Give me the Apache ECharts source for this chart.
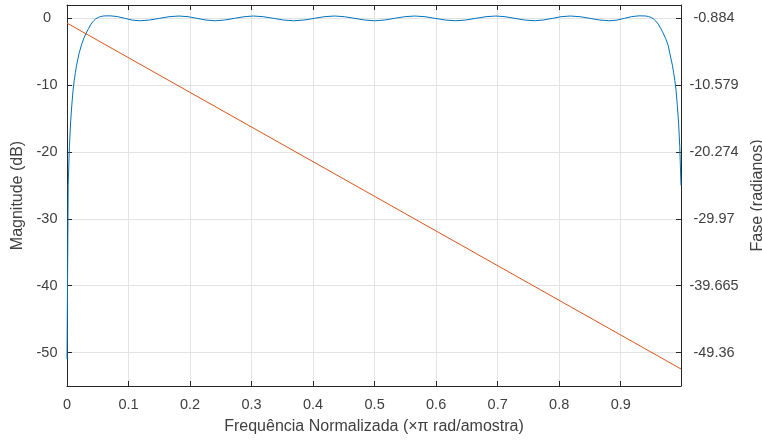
<!DOCTYPE html>
<html>
<head>
<meta charset="utf-8">
<script src="https://cdn.jsdelivr.net/npm/echarts@6/dist/echarts.min.js"></script>
<style>
html,body{margin:0;padding:0;background:#fff;}
#chart{width:762px;height:442px;}
</style>
</head>
<body>
<div id="chart"></div>
<script>
// Normalized frequency (x pi rad/sample)
var magFreq = [0, 0.00195, 0.0039, 0.0059, 0.0078, 0.0098, 0.0117, 0.0137, 0.0156, 0.0195, 0.0234, 0.0273, 0.0312, 0.0352, 0.039, 0.043, 0.047, 0.051, 0.055, 0.06, 0.07,
  0.082, 0.094, 0.106, 0.118, 0.134, 0.150, 0.166, 0.182, 0.197, 0.211, 0.226, 0.240, 0.256, 0.272, 0.288, 0.303, 0.319, 0.336, 0.352, 0.368, 0.385, 0.402, 0.418, 0.435, 0.451, 0.468, 0.484, 0.500,
  0.516, 0.532, 0.549, 0.565, 0.582, 0.598, 0.615, 0.632, 0.648, 0.664, 0.681, 0.697, 0.712, 0.728, 0.744, 0.760, 0.774, 0.789, 0.803, 0.818, 0.834, 0.850, 0.866, 0.882, 0.894, 0.906, 0.918, 0.930,
  0.940, 0.945, 0.949, 0.953, 0.957, 0.961, 0.965, 0.969, 0.973, 0.977, 0.980, 0.984, 0.986, 0.988, 0.990, 0.992, 0.994, 0.996, 0.998];
// Magnitude (dB)
var magDb = [-51, -25, -19.2, -15.5, -13.0, -10.8, -9.3, -8.1, -7.0, -5.3, -4.0, -3.0, -2.2, -1.5, -0.85, -0.4, -0.05, 0.15, 0.28, 0.36, 0.38,
  0.27, 0.0, -0.26, -0.36, -0.25, 0.0, 0.25, 0.35, 0.25, 0.0, -0.25, -0.36, -0.25, 0.0, 0.25, 0.35, 0.25, 0.0, -0.25, -0.36, -0.25, 0.0, 0.25, 0.35, 0.25, 0.0, -0.25, -0.36,
  -0.25, 0.0, 0.25, 0.35, 0.25, 0.0, -0.25, -0.36, -0.25, 0.0, 0.25, 0.35, 0.25, 0.0, -0.25, -0.36, -0.25, 0.0, 0.25, 0.35, 0.25, 0.0, -0.25, -0.36, -0.26, 0.0, 0.27, 0.38,
  0.36, 0.28, 0.15, -0.05, -0.4, -0.85, -1.5, -2.2, -3.0, -4.0, -5.3, -7.0, -8.1, -9.3, -10.8, -13.0, -15.5, -19.2, -25];
// Phase (radians)
var phaseFreq = [0, 0.5, 0.998];
var phaseRad = [-1.571, -26.70, -51.74];

var xTicks = [0, 0.1, 0.2, 0.3, 0.4, 0.5, 0.6, 0.7, 0.8, 0.9];
var magTicks = [-50, -40, -30, -20, -10, 0];
var phaseTicks = [-49.36, -39.665, -29.97, -20.274, -10.579, -0.884];

var magData = magFreq.map(function (f, i) { return [f, magDb[i]]; });
var phaseData = phaseFreq.map(function (f, i) { return [f, phaseRad[i]]; });

var axisColor = '#262626';
var textColor = '#404040';
var gridColor = '#e3e3e3';
var font = 'Liberation Sans, Arial, Helvetica, sans-serif';

var chart = echarts.init(document.getElementById('chart'), null, {renderer: 'canvas'});
chart.setOption({
  animation: false,
  backgroundColor: '#ffffff',
  grid: {left: 67, right: 81, top: 5, bottom: 56, containLabel: false, outerBoundsMode: 'none'},
  xAxis: [{
    type: 'value', min: 0, max: 0.998, position: 'bottom',
    name: 'Frequência Normalizada (×π rad/amostra)',
    nameLocation: 'middle', nameGap: 33,
    nameTextStyle: {color: textColor, fontFamily: font, fontSize: 16},
    axisLine: {show: true, onZero: false, lineStyle: {color: axisColor, width: 1}},
    axisTick: {show: true, inside: true, length: 5, customValues: xTicks, lineStyle: {color: axisColor}},
    axisLabel: {customValues: xTicks, color: textColor, fontFamily: font, fontSize: 14.5, margin: 11},
    splitLine: {show: true, lineStyle: {color: gridColor, width: 1}}
  }, {
    type: 'value', min: 0, max: 0.998, position: 'top',
    axisLine: {show: true, onZero: false, lineStyle: {color: axisColor, width: 1}},
    axisTick: {show: true, inside: true, length: 5, customValues: xTicks, lineStyle: {color: axisColor}},
    axisLabel: {show: false},
    splitLine: {show: false}
  }],
  yAxis: [{
    type: 'value', min: -55, max: 2, position: 'left',
    name: 'Magnitude (dB)', nameLocation: 'middle', nameGap: 38, nameRotate: 90,
    nameTextStyle: {color: textColor, fontFamily: font, fontSize: 16},
    axisLine: {show: true, onZero: false, lineStyle: {color: axisColor, width: 1}},
    axisTick: {show: true, inside: true, length: 5, customValues: magTicks, lineStyle: {color: axisColor}},
    axisLabel: {customValues: magTicks, color: textColor, fontFamily: font, fontSize: 14.5, margin: 20, align: 'center'},
    splitLine: {show: true, lineStyle: {color: gridColor, width: 1}}
  }, {
    type: 'value', min: -54.2076, max: 1.05504, position: 'right',
    name: 'Fase (radianos)', nameLocation: 'middle', nameGap: 63, nameRotate: 90,
    nameTextStyle: {color: textColor, fontFamily: font, fontSize: 16},
    axisLine: {show: true, onZero: false, lineStyle: {color: axisColor, width: 1}},
    axisTick: {show: true, inside: true, length: 5, customValues: phaseTicks, lineStyle: {color: axisColor}},
    axisLabel: {customValues: phaseTicks, color: textColor, fontFamily: font, fontSize: 14.5, margin: 33, align: 'center'},
    splitLine: {show: false}
  }],
  series: [{
    name: 'Magnitude', type: 'line', xAxisIndex: 0, yAxisIndex: 0,
    data: magData, showSymbol: false, symbol: 'none', clip: true,
    lineStyle: {color: '#0072BD', width: 1}, z: 2
  }, {
    name: 'Fase', type: 'line', xAxisIndex: 0, yAxisIndex: 1,
    data: phaseData, showSymbol: false, symbol: 'none', clip: true,
    lineStyle: {color: '#D95319', width: 1}, z: 3
  }]
});
</script>
</body>
</html>
